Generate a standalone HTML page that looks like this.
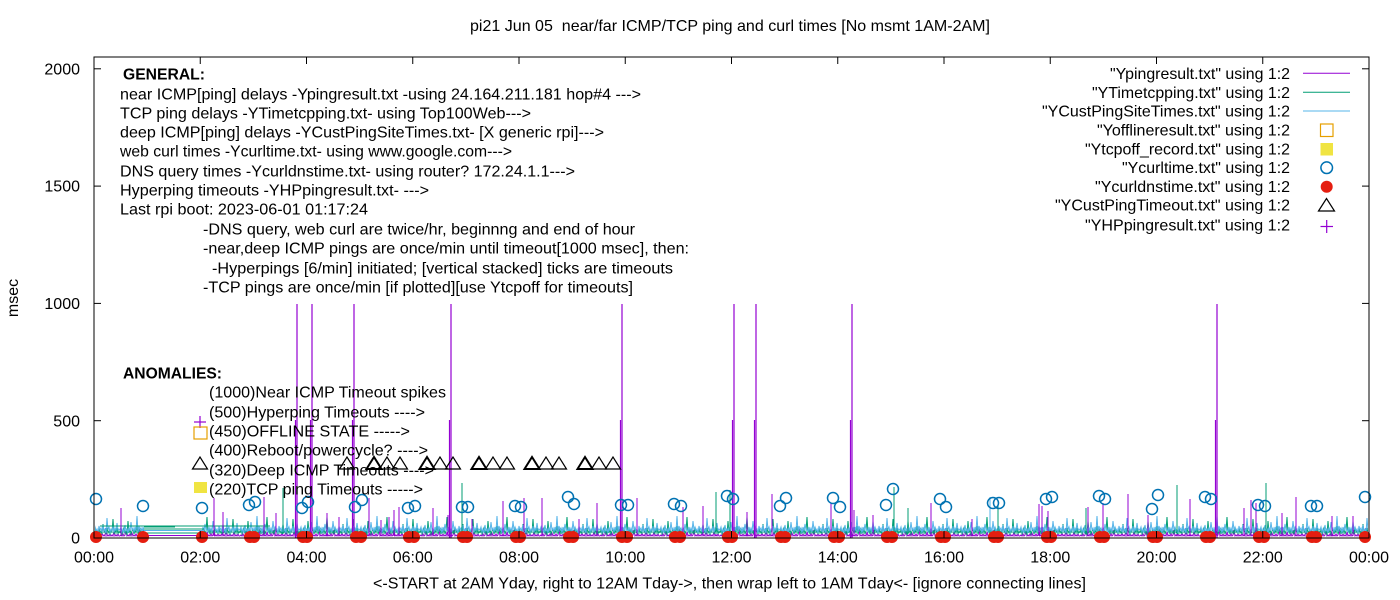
<!DOCTYPE html>
<html>
<head>
<meta charset="utf-8">
<style>
html,body{margin:0;padding:0;background:#fff;}
svg{display:block;}
text{font-family:"Liberation Sans",Arial,sans-serif;font-size:16px;fill:#000;}
.b{font-weight:bold;}
</style>
</head>
<body>
<svg width="1400" height="600" viewBox="0 0 1400 600" xmlns="http://www.w3.org/2000/svg">
<defs>
<pattern id="noise" x="0" y="0" width="60" height="600" patternUnits="userSpaceOnUse">
<polyline fill="none" stroke="#9400d3" stroke-width="1" points="0,536 1,535 2,536 3,534 4,536 5,535 6,531 7,536 8,535 9,536 10,534 11,536 12,533 13,536 14,535 15,536 16,534 17,536 18,535 19,529 20,536 21,535 22,536 23,534 24,536 25,535 26,536 27,532 28,536 29,535 30,536 31,534 32,536 33,535 34,530 35,536 36,535 37,536 38,534 39,536 40,535 41,536 42,533 43,536 44,535 45,536 46,528 47,536 48,535 49,536 50,534 51,536 52,535 53,536 54,531 55,536 56,535 57,536 58,534 59,536 60,536"/>
<polyline fill="none" stroke="#009e73" stroke-width="1" points="0,533 1,530 2,534 3,531 4,528 5,533 6,530 7,535 8,521 9,533 10,529 11,534 12,531 13,529 14,534 15,530 16,533 17,526 18,534 19,531 20,529 21,534 22,530 23,533 24,528 25,534 26,531 27,517 28,533 29,530 30,534 31,529 32,533 33,531 34,534 35,527 36,533 37,530 38,534 39,529 40,533 41,531 42,534 43,524 44,533 45,530 46,534 47,528 48,533 49,531 50,534 51,529 52,533 53,519 54,534 55,530 56,533 57,528 58,534 59,531 60,533"/>
<polyline fill="none" stroke="#56b4e9" stroke-width="1" points="0,530 1,527 2,532 3,529 4,533 5,525 6,531 7,529 8,533 9,528 10,531 11,522 12,530 13,528 14,532 15,527 16,531 17,516 18,532 19,526 20,530 21,528 22,533 23,527 24,531 25,524 26,530 27,529 28,532 29,527 30,531 31,528 32,532 33,521 34,530 35,527 36,531 37,529 38,533 39,526 40,530 41,528 42,532 43,525 44,531 45,529 46,533 47,518 48,530 49,527 50,532 51,529 52,531 53,526 54,532 55,528 56,531 57,523 58,530 59,529 60,530"/>
</pattern>
</defs>
<rect x="0" y="0" width="1400" height="600" fill="#fff"/>

<!-- title -->
<text x="470" y="31" textLength="520" lengthAdjust="spacingAndGlyphs">pi21 Jun 05&#160; near/far ICMP/TCP ping and curl times [No msmt 1AM-2AM]</text>

<!-- noise band -->
<rect x="95" y="500" width="49" height="38" fill="url(#noise)"/>
<rect x="202" y="500" width="1166" height="38" fill="url(#noise)"/>
<!-- flat connecting lines (no measurement gap) -->
<line x1="144" y1="527" x2="175" y2="527" stroke="#009e73" stroke-width="1"/>
<line x1="100" y1="526" x2="270" y2="526" stroke="#009e73" stroke-width="1"/>
<line x1="144" y1="529" x2="204" y2="529" stroke="#009e73" stroke-width="1"/>
<line x1="144" y1="530.5" x2="204" y2="530.5" stroke="#56b4e9" stroke-width="1"/>
<line x1="144" y1="533" x2="204" y2="533" stroke="#009e73" stroke-width="1"/>
<line x1="144" y1="535.5" x2="204" y2="535.5" stroke="#9400d3" stroke-width="1"/>

<!-- small purple spikes -->
<g stroke="#9400d3" stroke-width="1">
<line x1="121" y1="536" x2="121" y2="508"/>
<line x1="214" y1="536" x2="214" y2="498"/>
<line x1="223" y1="536" x2="223" y2="512"/>
<line x1="264" y1="536" x2="264" y2="497"/>
<line x1="276" y1="536" x2="276" y2="513"/>
<line x1="327" y1="536" x2="327" y2="513"/>
<line x1="339" y1="536" x2="339" y2="517"/>
<line x1="369" y1="536" x2="369" y2="498"/>
<line x1="381" y1="536" x2="381" y2="520"/>
<line x1="389" y1="536" x2="389" y2="517"/>
<line x1="394" y1="536" x2="394" y2="510"/>
<line x1="399" y1="536" x2="399" y2="507"/>
<line x1="433" y1="536" x2="433" y2="508"/>
<line x1="448" y1="536" x2="448" y2="515"/>
<line x1="472" y1="536" x2="472" y2="519"/>
<line x1="503" y1="536" x2="503" y2="501"/>
<line x1="524" y1="536" x2="524" y2="498"/>
<line x1="542" y1="536" x2="542" y2="498"/>
<line x1="579" y1="536" x2="579" y2="519"/>
<line x1="597" y1="536" x2="597" y2="503"/>
<line x1="637" y1="536" x2="637" y2="498"/>
<line x1="683" y1="536" x2="683" y2="507"/>
<line x1="703" y1="536" x2="703" y2="506"/>
<line x1="716" y1="536" x2="716" y2="500"/>
<line x1="747" y1="536" x2="747" y2="512"/>
<line x1="772" y1="536" x2="772" y2="494"/>
<line x1="831" y1="536" x2="831" y2="503"/>
<line x1="854" y1="536" x2="854" y2="510"/>
<line x1="873" y1="536" x2="873" y2="515"/>
<line x1="931" y1="536" x2="931" y2="503"/>
<line x1="972" y1="536" x2="972" y2="519"/>
<line x1="1039" y1="536" x2="1039" y2="504"/>
<line x1="1042" y1="536" x2="1042" y2="506"/>
<line x1="1048" y1="536" x2="1048" y2="511"/>
<line x1="1088" y1="536" x2="1088" y2="507"/>
<line x1="1103" y1="536" x2="1103" y2="503"/>
<line x1="1128" y1="536" x2="1128" y2="494"/>
<line x1="1148" y1="536" x2="1148" y2="515"/>
<line x1="1177" y1="536" x2="1177" y2="510"/>
<line x1="1190" y1="536" x2="1190" y2="499"/>
<line x1="1244" y1="536" x2="1244" y2="508"/>
<line x1="1251" y1="536" x2="1251" y2="500"/>
<line x1="1256" y1="536" x2="1256" y2="503"/>
<line x1="1282" y1="536" x2="1282" y2="513"/>
<line x1="1296" y1="536" x2="1296" y2="497"/>
<line x1="1332" y1="536" x2="1332" y2="516"/>
<line x1="1353" y1="536" x2="1353" y2="516"/>
</g>
<!-- teal spikes -->
<g stroke="#009e73" stroke-width="1">
<line x1="283" y1="534" x2="283" y2="488"/>
<line x1="462" y1="534" x2="462" y2="483"/>
<line x1="716" y1="534" x2="716" y2="492"/>
<line x1="730" y1="534" x2="730" y2="490"/>
<line x1="894" y1="534" x2="894" y2="487"/>
<line x1="908" y1="534" x2="908" y2="508"/>
<line x1="998" y1="534" x2="998" y2="505"/>
<line x1="1086" y1="534" x2="1086" y2="508"/>
<line x1="1177" y1="534" x2="1177" y2="485"/>
<line x1="1266" y1="534" x2="1266" y2="483"/>
</g>
<line x1="990" y1="532" x2="990" y2="497" stroke="#56b4e9" stroke-width="1"/>

<!-- big timeout spikes -->
<g stroke="#9400d3" stroke-width="1.2">
<line x1="297" y1="538" x2="297" y2="304"/><line x1="295.5" y1="538" x2="295.5" y2="420"/>
<line x1="312" y1="538" x2="312" y2="304"/><line x1="310.5" y1="538" x2="310.5" y2="420"/>
<line x1="354" y1="538" x2="354" y2="304"/><line x1="352.5" y1="538" x2="352.5" y2="420"/>
<line x1="451" y1="538" x2="451" y2="304"/><line x1="449.5" y1="538" x2="449.5" y2="420"/>
<line x1="622" y1="538" x2="622" y2="304"/><line x1="620.5" y1="538" x2="620.5" y2="420"/>
<line x1="734" y1="538" x2="734" y2="304"/><line x1="732.5" y1="538" x2="732.5" y2="420"/>
<line x1="756" y1="538" x2="756" y2="304"/><line x1="754.5" y1="538" x2="754.5" y2="420"/>
<line x1="852" y1="538" x2="852" y2="304"/><line x1="850.5" y1="538" x2="850.5" y2="420"/>
<line x1="1217" y1="538" x2="1217" y2="304"/><line x1="1215.5" y1="538" x2="1215.5" y2="420"/>
</g>

<!-- curl time circles -->
<g fill="none" stroke="#0072b2" stroke-width="1.5">
<circle cx="96" cy="499" r="5.5"/><circle cx="143" cy="506" r="5.5"/><circle cx="202" cy="508" r="5.5"/>
<circle cx="249" cy="505" r="5.5"/><circle cx="255" cy="502" r="5.5"/>
<circle cx="302" cy="508" r="5.5"/><circle cx="308" cy="502" r="5.5"/>
<circle cx="355" cy="507" r="5.5"/><circle cx="362" cy="500" r="5.5"/>
<circle cx="408" cy="508" r="5.5"/><circle cx="415" cy="506" r="5.5"/>
<circle cx="462" cy="507" r="5.5"/><circle cx="468" cy="507" r="5.5"/>
<circle cx="515" cy="506" r="5.5"/><circle cx="521" cy="507" r="5.5"/>
<circle cx="568" cy="497" r="5.5"/><circle cx="574" cy="504" r="5.5"/>
<circle cx="621" cy="505" r="5.5"/><circle cx="628" cy="505" r="5.5"/>
<circle cx="674" cy="504" r="5.5"/><circle cx="681" cy="506" r="5.5"/>
<circle cx="727" cy="496" r="5.5"/><circle cx="733" cy="499" r="5.5"/>
<circle cx="780" cy="506" r="5.5"/><circle cx="786" cy="498" r="5.5"/>
<circle cx="833" cy="498" r="5.5"/><circle cx="840" cy="507" r="5.5"/>
<circle cx="886" cy="505" r="5.5"/><circle cx="893" cy="489" r="5.5"/>
<circle cx="940" cy="499" r="5.5"/><circle cx="946" cy="507" r="5.5"/>
<circle cx="993" cy="503" r="5.5"/><circle cx="999" cy="503" r="5.5"/>
<circle cx="1046" cy="499" r="5.5"/><circle cx="1052" cy="497" r="5.5"/>
<circle cx="1099" cy="496" r="5.5"/><circle cx="1105" cy="499" r="5.5"/>
<circle cx="1152" cy="509" r="5.5"/><circle cx="1158" cy="495" r="5.5"/>
<circle cx="1205" cy="497" r="5.5"/><circle cx="1211" cy="499" r="5.5"/>
<circle cx="1258" cy="505" r="5.5"/><circle cx="1265" cy="506" r="5.5"/>
<circle cx="1311" cy="506" r="5.5"/><circle cx="1317" cy="506" r="5.5"/>
<circle cx="1365" cy="497" r="5.5"/>
</g>

<!-- dns red dots -->
<g fill="#e51e10">
<circle cx="96" cy="537" r="6"/><circle cx="143" cy="537" r="6"/><circle cx="202" cy="537" r="6"/>
<circle cx="250" cy="537" r="6"/><circle cx="254" cy="537" r="6"/>
<circle cx="303" cy="537" r="6"/><circle cx="307" cy="537" r="6"/>
<circle cx="356" cy="537" r="6"/><circle cx="361" cy="537" r="6"/>
<circle cx="409" cy="537" r="6"/><circle cx="414" cy="537" r="6"/>
<circle cx="463" cy="537" r="6"/><circle cx="467" cy="537" r="6"/>
<circle cx="516" cy="537" r="6"/><circle cx="520" cy="537" r="6"/>
<circle cx="569" cy="537" r="6"/><circle cx="573" cy="537" r="6"/>
<circle cx="622" cy="537" r="6"/><circle cx="627" cy="537" r="6"/>
<circle cx="675" cy="537" r="6"/><circle cx="680" cy="537" r="6"/>
<circle cx="728" cy="537" r="6"/><circle cx="732" cy="537" r="6"/>
<circle cx="781" cy="537" r="6"/><circle cx="785" cy="537" r="6"/>
<circle cx="834" cy="537" r="6"/><circle cx="839" cy="537" r="6"/>
<circle cx="887" cy="537" r="6"/><circle cx="892" cy="537" r="6"/>
<circle cx="941" cy="537" r="6"/><circle cx="945" cy="537" r="6"/>
<circle cx="994" cy="537" r="6"/><circle cx="998" cy="537" r="6"/>
<circle cx="1047" cy="537" r="6"/><circle cx="1051" cy="537" r="6"/>
<circle cx="1100" cy="537" r="6"/><circle cx="1104" cy="537" r="6"/>
<circle cx="1153" cy="537" r="6"/><circle cx="1157" cy="537" r="6"/>
<circle cx="1206" cy="537" r="6"/><circle cx="1210" cy="537" r="6"/>
<circle cx="1259" cy="537" r="6"/><circle cx="1264" cy="537" r="6"/>
<circle cx="1312" cy="537" r="6"/><circle cx="1316" cy="537" r="6"/>
<circle cx="1365" cy="537" r="6"/>
</g>

<!-- deep ICMP timeout triangles -->
<g fill="none" stroke="#000" stroke-width="1.2">
<path d="M192.5,469 L200,457 L207.5,469 Z"/>
<path d="M339.5,469 L347,457 L354.5,469 Z"/>
<path d="M366.5,469 L374,457 L381.5,469 Z" stroke-width="2"/>
<path d="M379.5,469 L387,457 L394.5,469 Z"/>
<path d="M392.5,469 L400,457 L407.5,469 Z"/>
<path d="M419.5,469 L427,457 L434.5,469 Z" stroke-width="2"/>
<path d="M432.5,469 L440,457 L447.5,469 Z"/>
<path d="M445.5,469 L453,457 L460.5,469 Z"/>
<path d="M471.5,469 L479,457 L486.5,469 Z" stroke-width="2"/>
<path d="M485.5,469 L493,457 L500.5,469 Z"/>
<path d="M499.5,469 L507,457 L514.5,469 Z"/>
<path d="M524.5,469 L532,457 L539.5,469 Z" stroke-width="2"/>
<path d="M538.5,469 L546,457 L553.5,469 Z"/>
<path d="M551.5,469 L559,457 L566.5,469 Z"/>
<path d="M577.5,469 L585,457 L592.5,469 Z" stroke-width="2"/>
<path d="M591.5,469 L599,457 L606.5,469 Z"/>
<path d="M605.5,469 L613,457 L620.5,469 Z"/>
</g>

<!-- annotation markers -->
<g stroke="#9400d3" stroke-width="1.2"><line x1="194" y1="422" x2="206" y2="422"/><line x1="200" y1="416" x2="200" y2="428"/></g>
<rect x="194" y="427" width="13" height="12" fill="none" stroke="#e69f00" stroke-width="1.2"/>
<rect x="194" y="482" width="13" height="11" fill="#f0e442"/>

<!-- axes box -->
<rect x="94" y="57" width="1275" height="481" fill="none" stroke="#000" stroke-width="1"/>
<g stroke="#000" stroke-width="1">
<line x1="94" y1="68.8" x2="101" y2="68.8"/><line x1="1362" y1="68.8" x2="1369" y2="68.8"/>
<line x1="94" y1="186.1" x2="101" y2="186.1"/><line x1="1362" y1="186.1" x2="1369" y2="186.1"/>
<line x1="94" y1="303.4" x2="101" y2="303.4"/><line x1="1362" y1="303.4" x2="1369" y2="303.4"/>
<line x1="94" y1="420.7" x2="101" y2="420.7"/><line x1="1362" y1="420.7" x2="1369" y2="420.7"/>
<line x1="200.25" y1="57" x2="200.25" y2="64"/><line x1="200.25" y1="538" x2="200.25" y2="531"/>
<line x1="306.5" y1="57" x2="306.5" y2="64"/><line x1="306.5" y1="538" x2="306.5" y2="531"/>
<line x1="412.75" y1="57" x2="412.75" y2="64"/><line x1="412.75" y1="538" x2="412.75" y2="531"/>
<line x1="519" y1="57" x2="519" y2="64"/><line x1="519" y1="538" x2="519" y2="531"/>
<line x1="625.25" y1="57" x2="625.25" y2="64"/><line x1="625.25" y1="538" x2="625.25" y2="531"/>
<line x1="731.5" y1="57" x2="731.5" y2="64"/><line x1="731.5" y1="538" x2="731.5" y2="531"/>
<line x1="837.75" y1="57" x2="837.75" y2="64"/><line x1="837.75" y1="538" x2="837.75" y2="531"/>
<line x1="944" y1="57" x2="944" y2="64"/><line x1="944" y1="538" x2="944" y2="531"/>
<line x1="1050.25" y1="57" x2="1050.25" y2="64"/><line x1="1050.25" y1="538" x2="1050.25" y2="531"/>
<line x1="1156.5" y1="57" x2="1156.5" y2="64"/><line x1="1156.5" y1="538" x2="1156.5" y2="531"/>
<line x1="1262.75" y1="57" x2="1262.75" y2="64"/><line x1="1262.75" y1="538" x2="1262.75" y2="531"/>
</g>

<!-- y tick labels -->
<g text-anchor="end">
<text x="80" y="74.5">2000</text>
<text x="80" y="191.5">1500</text>
<text x="80" y="309">1000</text>
<text x="80" y="426.5">500</text>
<text x="80" y="543.5">0</text>
</g>
<!-- x tick labels -->
<g text-anchor="middle">
<text x="94" y="562.5">00:00</text>
<text x="200.25" y="562.5">02:00</text>
<text x="306.5" y="562.5">04:00</text>
<text x="412.75" y="562.5">06:00</text>
<text x="519" y="562.5">08:00</text>
<text x="625.25" y="562.5">10:00</text>
<text x="731.5" y="562.5">12:00</text>
<text x="837.75" y="562.5">14:00</text>
<text x="944" y="562.5">16:00</text>
<text x="1050.25" y="562.5">18:00</text>
<text x="1156.5" y="562.5">20:00</text>
<text x="1262.75" y="562.5">22:00</text>
<text x="1369" y="562.5">00:00</text>
</g>
<text x="373" y="588.5" textLength="713" lengthAdjust="spacingAndGlyphs">&lt;-START at 2AM Yday, right to 12AM Tday-&gt;, then wrap left to 1AM Tday&lt;- [ignore connecting lines]</text>
<text x="0" y="0" transform="translate(18,298) rotate(-90)" text-anchor="middle">msec</text>

<!-- general annotation -->
<text class="b" x="123" y="79.5" textLength="82" lengthAdjust="spacingAndGlyphs">GENERAL:</text>
<text x="120" y="99.5" textLength="521" lengthAdjust="spacingAndGlyphs">near ICMP[ping] delays -Ypingresult.txt -using 24.164.211.181 hop#4 ---&gt;</text>
<text x="120" y="118.5" textLength="411" lengthAdjust="spacingAndGlyphs">TCP ping delays -YTimetcpping.txt- using Top100Web---&gt;</text>
<text x="120" y="137.5" textLength="484" lengthAdjust="spacingAndGlyphs">deep ICMP[ping] delays -YCustPingSiteTimes.txt- [X generic rpi]---&gt;</text>
<text x="120" y="156.5" textLength="392" lengthAdjust="spacingAndGlyphs">web curl times -Ycurltime.txt- using www.google.com---&gt;</text>
<text x="120" y="176.5" textLength="455" lengthAdjust="spacingAndGlyphs">DNS query times -Ycurldnstime.txt- using router? 172.24.1.1---&gt;</text>
<text x="120" y="195.5" textLength="309" lengthAdjust="spacingAndGlyphs">Hyperping timeouts -YHPpingresult.txt- ---&gt;</text>
<text x="120" y="214.5" textLength="248" lengthAdjust="spacingAndGlyphs">Last rpi boot: 2023-06-01 01:17:24</text>
<text x="203" y="234.5" textLength="432" lengthAdjust="spacingAndGlyphs">-DNS query, web curl are twice/hr, beginnng and end of hour</text>
<text x="203" y="253.5" textLength="486" lengthAdjust="spacingAndGlyphs">-near,deep ICMP pings are once/min until timeout[1000 msec], then:</text>
<text x="212" y="273.5" textLength="461" lengthAdjust="spacingAndGlyphs">-Hyperpings [6/min] initiated; [vertical stacked] ticks are timeouts</text>
<text x="203" y="292.5" textLength="430" lengthAdjust="spacingAndGlyphs">-TCP pings are once/min [if plotted][use Ytcpoff for timeouts]</text>

<!-- anomalies annotation -->
<text class="b" x="123" y="378.5" textLength="99" lengthAdjust="spacingAndGlyphs">ANOMALIES:</text>
<text x="209" y="397.5" textLength="237" lengthAdjust="spacingAndGlyphs">(1000)Near ICMP Timeout spikes</text>
<text x="209" y="417.5" textLength="216" lengthAdjust="spacingAndGlyphs">(500)Hyperping Timeouts ----&gt;</text>
<text x="209" y="436.5" textLength="201" lengthAdjust="spacingAndGlyphs">(450)OFFLINE STATE -----&gt;</text>
<text x="209" y="455.5" textLength="219" lengthAdjust="spacingAndGlyphs">(400)Reboot/powercycle? ----&gt;</text>
<text x="209" y="475.5" textLength="225" lengthAdjust="spacingAndGlyphs">(320)Deep ICMP Timeouts ----&gt;</text>
<text x="209" y="494.5" textLength="214" lengthAdjust="spacingAndGlyphs">(220)TCP ping Timeouts -----&gt;</text>

<!-- legend -->
<g text-anchor="end">
<text x="1290" y="78.8" textLength="180" lengthAdjust="spacingAndGlyphs">"Ypingresult.txt" using 1:2</text>
<text x="1290" y="97.8" textLength="198" lengthAdjust="spacingAndGlyphs">"YTimetcpping.txt" using 1:2</text>
<text x="1290" y="116.5" textLength="248" lengthAdjust="spacingAndGlyphs">"YCustPingSiteTimes.txt" using 1:2</text>
<text x="1290" y="135.5" textLength="193" lengthAdjust="spacingAndGlyphs">"Yofflineresult.txt" using 1:2</text>
<text x="1290" y="154.5" textLength="205" lengthAdjust="spacingAndGlyphs">"Ytcpoff_record.txt" using 1:2</text>
<text x="1290" y="173.2" textLength="168" lengthAdjust="spacingAndGlyphs">"Ycurltime.txt" using 1:2</text>
<text x="1290" y="192.2" textLength="195" lengthAdjust="spacingAndGlyphs">"Ycurldnstime.txt" using 1:2</text>
<text x="1290" y="210.5" textLength="235" lengthAdjust="spacingAndGlyphs">"YCustPingTimeout.txt" using 1:2</text>
<text x="1290" y="230.5" textLength="205" lengthAdjust="spacingAndGlyphs">"YHPpingresult.txt" using 1:2</text>
</g>
<line x1="1303" y1="73.3" x2="1350" y2="73.3" stroke="#9400d3" stroke-width="1"/>
<line x1="1303" y1="92.3" x2="1350" y2="92.3" stroke="#009e73" stroke-width="1"/>
<line x1="1303" y1="111" x2="1350" y2="111" stroke="#56b4e9" stroke-width="1"/>
<rect x="1320.5" y="124" width="12.5" height="12.5" fill="none" stroke="#e69f00" stroke-width="1.2"/>
<rect x="1320.5" y="143" width="12.5" height="12.5" fill="#f0e442"/>
<circle cx="1326.7" cy="167.7" r="5.8" fill="none" stroke="#0072b2" stroke-width="1.5"/>
<circle cx="1326.7" cy="186.7" r="6" fill="#e51e10"/>
<path d="M1318.5,211 L1326.5,198.5 L1334.5,211 Z" fill="none" stroke="#000" stroke-width="1.2"/>
<g stroke="#9400d3" stroke-width="1.2"><line x1="1320.5" y1="226.5" x2="1333" y2="226.5"/><line x1="1326.7" y1="220" x2="1326.7" y2="233"/></g>
</svg>
</body>
</html>
